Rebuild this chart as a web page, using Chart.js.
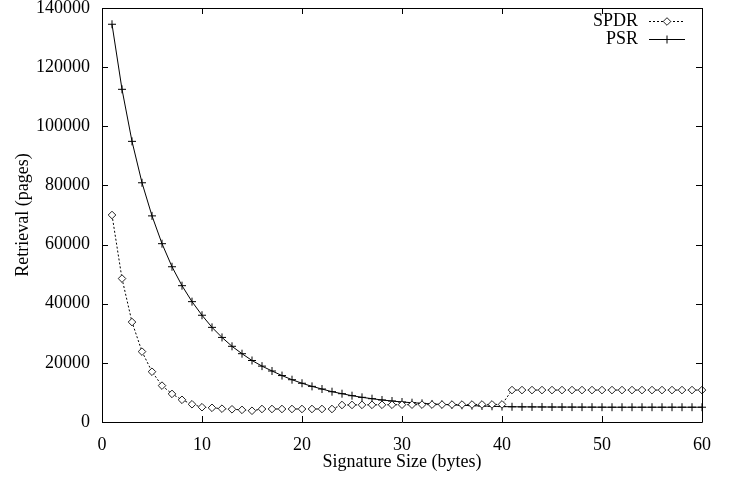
<!DOCTYPE html>
<html>
<head>
<meta charset="utf-8">
<script src="https://cdn.jsdelivr.net/npm/chart.js@4"></script>
<style>
html,body{margin:0;padding:0;background:#fff;}
#wrap{width:741px;height:478px;}
</style>
</head>
<body>
<div id="wrap"><canvas id="c" width="741" height="478"></canvas></div>
<script>
const sizes = [];
for (let i = 1; i <= 60; i++) sizes.push(i);

const psrValues = [
  134500, 112500, 94900, 80900, 69700, 60300, 52500, 46100, 40700, 36100,
  32000, 28600, 25600, 23100, 20800, 18900, 17250, 15700, 14300, 13100,
  12050, 11150, 10250, 9570, 8900, 8340, 7880, 7440, 7100, 6760,
  6530, 6310, 6100, 5950, 5800, 5650, 5530, 5420, 5320, 5220,
  5150, 5120, 5100, 5080, 5060, 5050, 5040, 5030, 5020, 5010,
  5000, 5000, 5000, 5000, 5000, 5000, 5000, 5000, 5000, 5000
];

const spdrValues = [
  70000, 48500, 33800, 23800, 17000, 12300, 9500, 7500, 6000, 5000,
  4800, 4500, 4300, 4100, 3800, 4400, 4400, 4400, 4400, 4400,
  4400, 4400, 4400, 5750, 5770, 5790, 5800, 5820, 5830, 5850,
  5860, 5870, 5880, 5890, 5900, 5910, 5920, 5930, 5940, 5950,
  10800, 10800, 10800, 10800, 10800, 10800, 10800, 10800, 10800, 10800,
  10800, 10800, 10800, 10800, 10800, 10800, 10800, 10800, 10800, 10800
];

const seriesNames = ['SPDR', 'PSR'];
const xTitle = 'Signature Size (bytes)';
const yTitle = 'Retrieval (pages)';

const FONT = '"Liberation Serif", "Times New Roman", serif';

function toPoints(xs, ys) { return xs.map((x, i) => ({x: x, y: ys[i]})); }

const framePlugin = {
  id: 'frame',
  afterDatasetsDraw(chart) {
    const {ctx, chartArea: a, scales} = chart;
    ctx.save();
    ctx.strokeStyle = '#000';
    ctx.lineWidth = 1;
    ctx.beginPath();
    ctx.rect(Math.round(a.left) + 0.5, Math.round(a.top) + 0.5, Math.round(a.right - a.left), Math.round(a.bottom - a.top));
    ctx.stroke();
    const tl = 6;
    ctx.beginPath();
    scales.x.ticks.forEach(t => {
      const px = Math.round(scales.x.getPixelForValue(t.value)) + 0.5;
      ctx.moveTo(px, a.bottom); ctx.lineTo(px, a.bottom - tl);
      ctx.moveTo(px, a.top); ctx.lineTo(px, a.top + tl);
    });
    scales.y.ticks.forEach(t => {
      const py = Math.round(scales.y.getPixelForValue(t.value)) + 0.5;
      ctx.moveTo(a.left, py); ctx.lineTo(a.left + tl, py);
      ctx.moveTo(a.right, py); ctx.lineTo(a.right - tl, py);
    });
    ctx.stroke();
    ctx.restore();
  },
  afterDraw(chart) {
    const ctx = chart.ctx;
    const textRight = 638, x0 = 649, x1 = 685, xm = 667;
    const ys = [21, 39];
    ctx.save();
    chart.data.datasets.forEach((ds, i) => {
      const y = ys[i];
      ctx.font = '18px ' + FONT;
      ctx.fillStyle = '#000';
      ctx.textAlign = 'right';
      ctx.textBaseline = 'middle';
      ctx.fillText(ds.label, textRight, y);
      ctx.strokeStyle = ds.borderColor;
      ctx.lineWidth = ds.borderWidth;
      ctx.setLineDash(ds.borderDash || []);
      ctx.beginPath();
      ctx.moveTo(x0, y + 0.5); ctx.lineTo(x1, y + 0.5);
      ctx.stroke();
      ctx.setLineDash([]);
      ctx.strokeStyle = ds.pointBorderColor;
      ctx.fillStyle = ds.pointBackgroundColor;
      ctx.lineWidth = ds.pointBorderWidth;
      Chart.helpers.drawPoint(ctx, {pointStyle: ds.pointStyle, radius: ds.pointRadius, borderWidth: ds.pointBorderWidth, rotation: 0}, xm, y + 0.5);
    });
    ctx.restore();
  }
};

new Chart(document.getElementById('c'), {
  type: 'line',
  data: {
    datasets: [
      {
        label: seriesNames[0],
        data: toPoints(sizes, spdrValues),
        borderColor: '#000',
        borderWidth: 1,
        borderDash: [2, 2],
        pointStyle: 'rectRot',
        pointRadius: 3.8,
        pointBorderWidth: 1,
        pointBorderColor: '#222',
        pointBackgroundColor: '#fff',
        tension: 0,
        clip: false
      },
      {
        label: seriesNames[1],
        data: toPoints(sizes, psrValues),
        borderColor: '#000',
        borderWidth: 1,
        pointStyle: 'cross',
        pointRadius: 4,
        pointBorderWidth: 1,
        pointBorderColor: '#000',
        pointBackgroundColor: '#000',
        tension: 0,
        clip: false
      }
    ]
  },
  options: {
    responsive: false,
    devicePixelRatio: 1,
    animation: false,
    layout: {padding: {top: 8, right: 39, left: 0, bottom: 0}},
    plugins: {legend: {display: false}, tooltip: {enabled: false}},
    scales: {
      x: {
        type: 'linear',
        min: 0, max: 60,
        grid: {display: false, drawTicks: false},
        border: {display: false},
        ticks: {stepSize: 10, color: '#000', padding: 12, font: {family: FONT, size: 18}, maxRotation: 0},
        title: {display: true, text: xTitle, color: '#000', font: {family: FONT, size: 18}, padding: {top: 0, bottom: 5}},
        afterFit(s) { s.height = 56; s.paddingLeft = 0; s.paddingRight = 0; }
      },
      y: {
        type: 'linear',
        min: 0, max: 140000,
        grid: {display: false, drawTicks: false},
        border: {display: false},
        ticks: {stepSize: 20000, color: '#000', padding: 12, font: {family: FONT, size: 18}, callback: v => String(v)},
        title: {display: true, text: yTitle, color: '#000', font: {family: FONT, size: 18}, padding: {top: 12, bottom: 0}},
        afterFit(s) { s.width = 102; s.paddingTop = 0; s.paddingBottom = 0; }
      }
    }
  },
  plugins: [framePlugin]
});
</script>
</body>
</html>
